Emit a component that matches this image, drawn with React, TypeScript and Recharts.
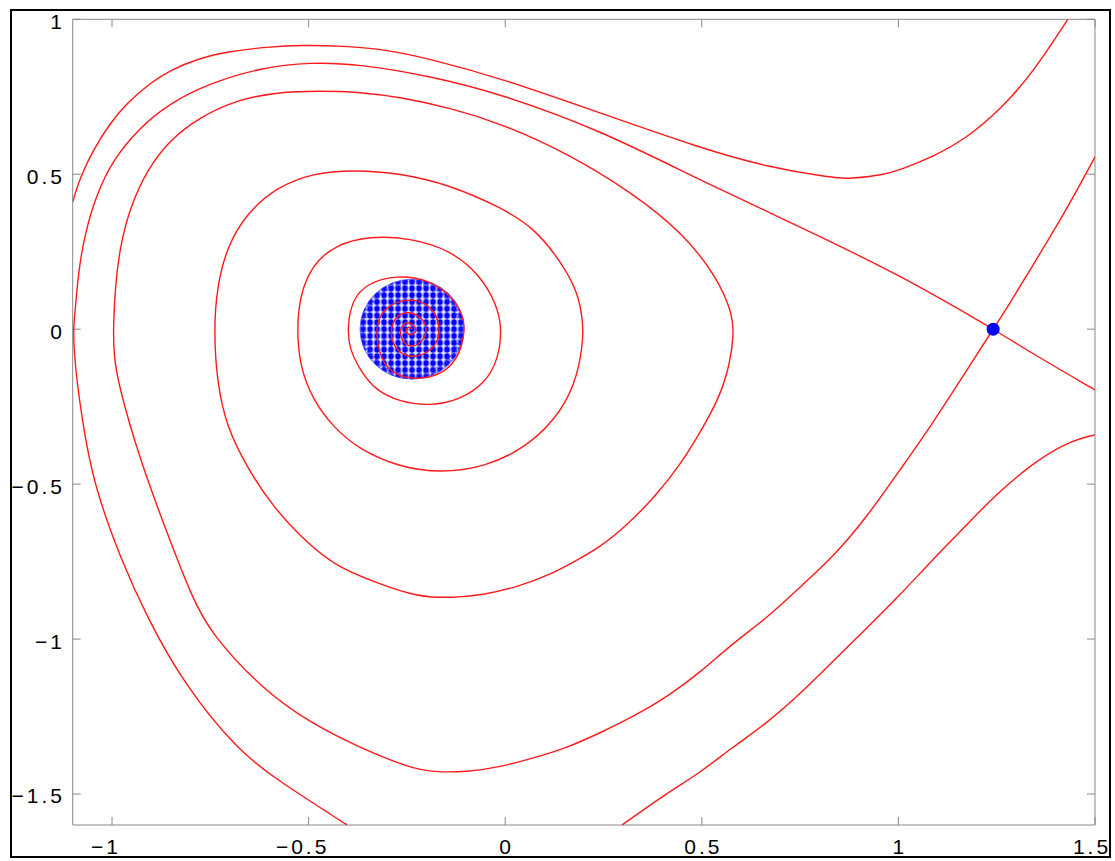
import React from 'react';
import { ComposedChart, Scatter, XAxis, YAxis } from 'recharts';

// ---- axis settings ----
const xDomain: [number, number] = [-1.1, 1.5];
const yDomain: [number, number] = [-1.6, 1];
const xTicks = [-1, -0.5, 0, 0.5, 1, 1.5];
const yTicks = [-1.5, -1, -0.5, 0, 0.5, 1];

// ---- trajectories (x, y) ----
const outerOrbit: [number, number][] = [
  [-1.1, 0.411], [-1.081, 0.491], [-1.048, 0.578], [-1.005, 0.665], [-0.962, 0.73], [-0.903, 0.794],
  [-0.853, 0.836], [-0.776, 0.875], [-0.708, 0.895], [-0.606, 0.911], [-0.514, 0.917], [-0.413, 0.914],
  [-0.3, 0.902], [-0.191, 0.872], [-0.013, 0.811], [0.241, 0.698], [0.495, 0.585], [0.666, 0.523],
  [0.834, 0.488], [0.877, 0.485], [0.961, 0.498], [1.004, 0.514], [1.088, 0.556], [1.174, 0.617],
  [1.258, 0.707], [1.342, 0.827], [1.431, 1.0],
];

const stableSeparatrix: [number, number][] = [
  [-0.402, -1.6], [-0.58, -1.455], [-0.682, -1.358], [-0.819, -1.142], [-0.911, -0.929], [-0.977, -0.745],
  [-1.048, -0.496], [-1.076, -0.293], [-1.094, -0.122], [-1.099, 0], [-1.094, 0.052], [-1.086, 0.181],
  [-1.069, 0.31], [-1.038, 0.44], [-0.997, 0.546], [-0.936, 0.643], [-0.853, 0.73], [-0.751, 0.794],
  [-0.624, 0.843], [-0.496, 0.862], [-0.369, 0.855], [-0.191, 0.817], [-0.013, 0.76], [0.241, 0.643],
  [0.495, 0.481], [0.75, 0.33], [1.004, 0.175], [1.241, 0],
];

const unstableSpiral: [number, number][] = [
  [1.241, 0], [1.174, -0.132], [1.088, -0.303], [1.004, -0.454], [0.92, -0.606], [0.834, -0.735],
  [0.75, -0.832], [0.666, -0.932], [0.579, -1.013], [0.495, -1.109], [0.411, -1.187], [0.325, -1.251],
  [0.241, -1.303], [0.157, -1.351], [0.071, -1.384], [-0.013, -1.413], [-0.097, -1.429], [-0.184, -1.429],
  [-0.242, -1.416], [-0.369, -1.351], [-0.496, -1.271], [-0.624, -1.155], [-0.751, -0.977], [-0.797, -0.864],
  [-0.86, -0.658], [-0.929, -0.422], [-0.985, -0.174], [-0.995, -0.083], [-0.997, 0], [-0.992, 0.136],
  [-0.98, 0.265], [-0.954, 0.394], [-0.911, 0.514], [-0.853, 0.611], [-0.776, 0.685], [-0.682, 0.74],
  [-0.58, 0.765], [-0.471, 0.769], [-0.369, 0.765], [-0.268, 0.749], [-0.14, 0.714], [-0.013, 0.665],
  [0.157, 0.569], [0.325, 0.439], [0.452, 0.31], [0.539, 0.168], [0.579, 0.046], [0.581, -0.019],
  [0.572, -0.109], [0.546, -0.219], [0.495, -0.335], [0.445, -0.438], [0.381, -0.541], [0.305, -0.638],
  [0.241, -0.703], [0.183, -0.745], [0.114, -0.793], [0.03, -0.832], [-0.056, -0.858], [-0.14, -0.867],
  [-0.224, -0.864], [-0.326, -0.819], [-0.428, -0.767], [-0.504, -0.69], [-0.591, -0.574], [-0.657, -0.445],
  [-0.708, -0.316], [-0.733, -0.174], [-0.741, 0], [-0.733, 0.136], [-0.708, 0.265], [-0.657, 0.375],
  [-0.58, 0.459], [-0.489, 0.504], [-0.387, 0.514], [-0.268, 0.504], [-0.14, 0.465], [-0.013, 0.394],
  [0.071, 0.33], [0.139, 0.223], [0.183, 0.126], [0.198, 0.03], [0.198, -0.051], [0.178, -0.18],
  [0.127, -0.293], [0.05, -0.383], [-0.051, -0.445], [-0.166, -0.464], [-0.268, -0.445], [-0.369, -0.39],
  [-0.438, -0.316], [-0.489, -0.228], [-0.522, -0.122], [-0.53, 0], [-0.522, 0.11], [-0.491, 0.207],
  [-0.433, 0.272], [-0.344, 0.301], [-0.242, 0.294], [-0.14, 0.256], [-0.064, 0.175], [-0.021, 0.078],
  [-0.008, 0], [-0.018, -0.099], [-0.051, -0.174], [-0.115, -0.228], [-0.191, -0.248], [-0.268, -0.235],
  [-0.331, -0.196], [-0.369, -0.132], [-0.395, -0.067], [-0.402, 0], [-0.39, 0.094], [-0.351, 0.149],
  [-0.275, 0.175], [-0.191, 0.159], [-0.135, 0.104], [-0.107, 0.046], [-0.102, 0], [-0.115, -0.083],
  [-0.153, -0.141], [-0.217, -0.164], [-0.28, -0.151], [-0.318, -0.099], [-0.331, 0], [-0.313, 0.068],
  [-0.247, 0.104], [-0.186, 0.078], [-0.161, 0], [-0.179, -0.067], [-0.242, -0.099], [-0.285, -0.061],
  [-0.293, 0], [-0.278, 0.043], [-0.247, 0.059], [-0.212, 0.039], [-0.196, 0], [-0.212, -0.045],
  [-0.242, -0.061], [-0.265, -0.035], [-0.268, 0], [-0.257, 0.02], [-0.242, 0.023], [-0.227, 0.007],
  [-0.227, -0.012], [-0.242, -0.022], [-0.255, -0.006], [-0.247, 0.01], [-0.237, 0],
];

const stableRightBranch: [number, number][] = [[1.241, 0], [1.36, -0.093], [1.5, -0.196]];

const unstableRightBranch: [number, number][] = [
  [1.241, 0], [1.284, 0.085], [1.335, 0.191], [1.386, 0.298], [1.441, 0.417], [1.5, 0.556],
];

const lowerRightOrbit: [number, number][] = [
  [0.297, -1.6], [0.411, -1.497], [0.495, -1.432], [0.579, -1.348], [0.666, -1.271], [0.75, -1.177],
  [0.834, -1.071], [0.92, -0.964], [1.004, -0.858], [1.088, -0.742], [1.174, -0.632], [1.241, -0.541],
  [1.342, -0.432], [1.429, -0.364], [1.5, -0.341],
];

const diskCenter: [number, number][] = [[-0.237, 0]];
const saddlePoint: [number, number][] = [[1.241, 0]];

const toPts = (a: [number, number][]) => a.map(([x, y]) => ({ x, y }));

const curves = [outerOrbit, stableSeparatrix, unstableSpiral, stableRightBranch, unstableRightBranch, lowerRightOrbit];

const FONT = 'Liberation Sans, Arial, Helvetica, sans-serif';
const fmt = (v: number) => (v < 0 ? '\u2212' : '') + String(Math.abs(v));

const XTick = (props: any) => {
  const { x, y, payload } = props;
  const v = payload.value as number;
  const dx = v < 0 ? -6 : v >= 1.5 ? -3 : 1.5;
  return (
    <text x={x} y={y} dx={dx} dy="0.71em" textAnchor="middle" fontSize={21}
      letterSpacing={3} fontFamily={FONT} fill="#000">{fmt(v)}</text>
  );
};

const YTick = (props: any) => {
  const { x, y, payload } = props;
  const v = payload.value as number;
  return (
    <text x={x} y={y} dy="0.45em" textAnchor="end" fontSize={21}
      letterSpacing={3} fontFamily={FONT} fill="#000">{fmt(v)}</text>
  );
};

const EmptyTick = () => <g />;
const NoPoint = () => <g />;

const DiskShape = (props: any) => {
  const { cx, cy } = props;
  return (
    <g>
      <defs>
        <pattern id="diskDots" patternUnits="userSpaceOnUse" x={cx - 3.5} y={cy - 3.4} width={7} height={6.8}>
          <ellipse cx={3.5} cy={3.4} rx={2.8} ry={3.2} fill="#0000ff" />
        </pattern>
      </defs>
      <ellipse cx={cx} cy={cy} rx={52} ry={50} fill="#e6e6ff" />
      <ellipse cx={cx} cy={cy} rx={52} ry={50} fill="url(#diskDots)" />
      <ellipse cx={cx} cy={cy} rx={49} ry={47} fill="none" stroke="#2a2aff" strokeWidth={5}
        strokeDasharray="2 1.6" opacity={0.55} />
      <ellipse cx={cx} cy={cy} rx={52} ry={50} fill="none" stroke="#4a4aff" strokeWidth={1} opacity={0.7} />
    </g>
  );
};

const SaddleShape = (props: any) => {
  const { cx, cy } = props;
  return <circle cx={cx} cy={cy} r={6.5} fill="#0000ff" />;
};

export default function App() {
  return (
    <div style={{ position: 'absolute', left: 10, top: 9, width: 1101, height: 849, border: '2px solid #000',
      boxSizing: 'border-box', overflow: 'hidden', background: '#fff' }}>
      <div style={{ position: 'absolute', left: -12, top: -11 }}>
        <ComposedChart width={1115} height={861} margin={{ top: 18.3, right: 19, bottom: 0, left: 0 }}>
          <XAxis xAxisId="b" type="number" dataKey="x" domain={xDomain} ticks={xTicks} interval={0}
            allowDataOverflow orientation="bottom" height={36} stroke="#888" tickSize={-8} tickMargin={22}
            tick={<XTick />} />
          <XAxis xAxisId="t" type="number" dataKey="x" domain={xDomain} ticks={xTicks} interval={0}
            allowDataOverflow orientation="top" height={1} stroke="#888" tickSize={-8} tick={EmptyTick} />
          <YAxis yAxisId="l" type="number" dataKey="y" domain={yDomain} ticks={yTicks} interval={0}
            allowDataOverflow orientation="left" width={72.7} stroke="#888" tickSize={-8} tickMargin={15.7}
            tick={<YTick />} />
          <YAxis yAxisId="r" type="number" dataKey="y" domain={yDomain} ticks={yTicks} interval={0}
            allowDataOverflow orientation="right" width={1} stroke="#888" tickSize={-8} tick={EmptyTick} />
          <Scatter data={toPts(diskCenter)} xAxisId="b" yAxisId="l" shape={DiskShape} isAnimationActive={false} />
          {curves.map((c, i) => (
            <Scatter key={i} data={toPts(c)} xAxisId="b" yAxisId="l" line={{ stroke: '#ff1a1a', strokeWidth: 1.4 }}
              lineJointType="basis" shape={NoPoint} isAnimationActive={false} />
          ))}
          <Scatter data={toPts(saddlePoint)} xAxisId="b" yAxisId="l" shape={SaddleShape} isAnimationActive={false} />
        </ComposedChart>
      </div>
    </div>
  );
}
